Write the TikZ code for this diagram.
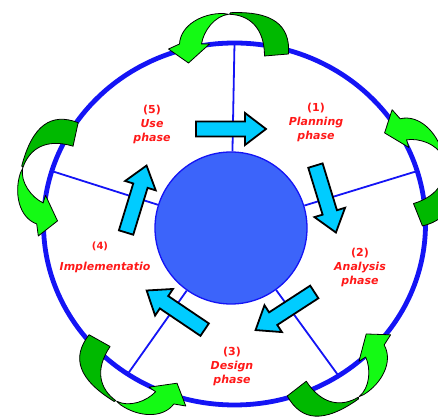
\documentclass[tikz,border=0pt]{standalone}
\usepackage{fontspec}
\newfontfamily\phasefont{DejaVu Sans}
\usetikzlibrary{positioning}
\definecolor{ringblue}{RGB}{20,20,245}
\definecolor{hubblue}{RGB}{60,100,250}
\definecolor{flowcyan}{RGB}{0,204,255}
\definecolor{curldark}{RGB}{0,185,0}
\definecolor{curllight}{RGB}{20,250,20}
\definecolor{phasered}{RGB}{255,25,25}

\begin{document}
\begin{tikzpicture}[x=1pt, y=1pt,
  ring/.style={draw=ringblue, line width=4.8pt},
  spoke/.style={draw=ringblue, line width=1.8pt},
  hub/.style={circle, draw=ringblue, line width=1.3pt, fill=hubblue,
              minimum size=152pt, inner sep=0pt},
  phase/.style={text=phasered, align=center,
                font=\phasefont\bfseries\itshape\fontsize{11}{14}\selectfont},
  phasenum/.style={text=phasered, font=\phasefont\bfseries\fontsize{10}{12}\selectfont},
  flow/.pic={
    \draw[fill=flowcyan, line width=1.8pt, line join=miter]
      (-35,-7.5) -- (14,-7.5) -- (14,-16) -- (35,0) -- (14,16) -- (14,7.5)
      -- (-35,7.5) -- cycle;
  },
  curl/.pic={
    \draw[fill=curllight, line width=0.8pt, line join=round]
      (-11,29.5) .. controls (-32,30) and (-54,18) .. (-55,-1)
      -- (-66,-6) -- (-46,-20) -- (-25,-1) -- (-33,-1)
      .. controls (-31,12) and (-20,27) .. (-6,28.7) -- cycle;
    \draw[fill=curldark, line width=0.8pt, line join=round]
      (54,-11) .. controls (56,18) and (38,32) .. (-4,30.3)
      -- (-5,28.7) .. controls (15,28) and (30,15) .. (30,-13) -- cycle;
  }
]
  \useasboundingbox (0,0) rectangle (438,419);

  % outer cycle and the hub
  \coordinate (o) at (234.5,195);
  \draw[ring] (o) ellipse [x radius=191, y radius=181];
  \node[hub] (hub) at (231,191) {};

  \path (o) ++(90:191 and 181)   coordinate (r1);
  \path (o) ++(17:191 and 181)   coordinate (r2);
  \path (o) ++(-57:191 and 181)  coordinate (r3);
  \path (o) ++(-124:191 and 181) coordinate (r4);
  \path (o) ++(163:191 and 181)  coordinate (r5);

  \draw[spoke] (hub) -- (r1);
  \draw[spoke] (hub) -- (r2);
  \draw[spoke] (hub) -- (r3);
  \draw[spoke] (hub) -- (r4);
  \draw[spoke] (hub) -- (r5);

  % flow between the phases
  \path (hub.center) ++(90:99)   pic[rotate=0]    {flow};
  \path (hub.center) ++(17:99)   pic[rotate=-73]  {flow};
  \path (hub.center) ++(-57:99)  pic[rotate=-147] {flow};
  \path (hub.center) ++(-124:99) pic[rotate=-214] {flow};
  \path (hub.center) ++(163:99)  pic[rotate=73]   {flow};

  % feedback loops on the ring
  \pic[rotate=0]    at (r1) {curl};
  \pic[rotate=-73]  at (r2) {curl};
  \pic[rotate=-147] at (r3) {curl};
  \pic[rotate=-214] at (r4) {curl};
  \pic[rotate=73]   at (r5) {curl};

  \node[phase] (use)    at (152,295) {{\upshape(5)}\\Use\\phase};
  \node[phase] (plan)   at (316,297) {{\upshape(1)}\\Planning\\phase};
  \node[phase] (anal)   at (360,152) {{\upshape(2)}\\Analysis\\phase};
  \node[phase] (design) at (232,53)  {{\upshape(3)}\\Design\\phase};
  \node[phase] (impl)   at (105,152) {Implementatio};
  \node[phasenum, above=4pt of impl, xshift=-5pt] (implnum) {(4)};
\end{tikzpicture}
\end{document}
